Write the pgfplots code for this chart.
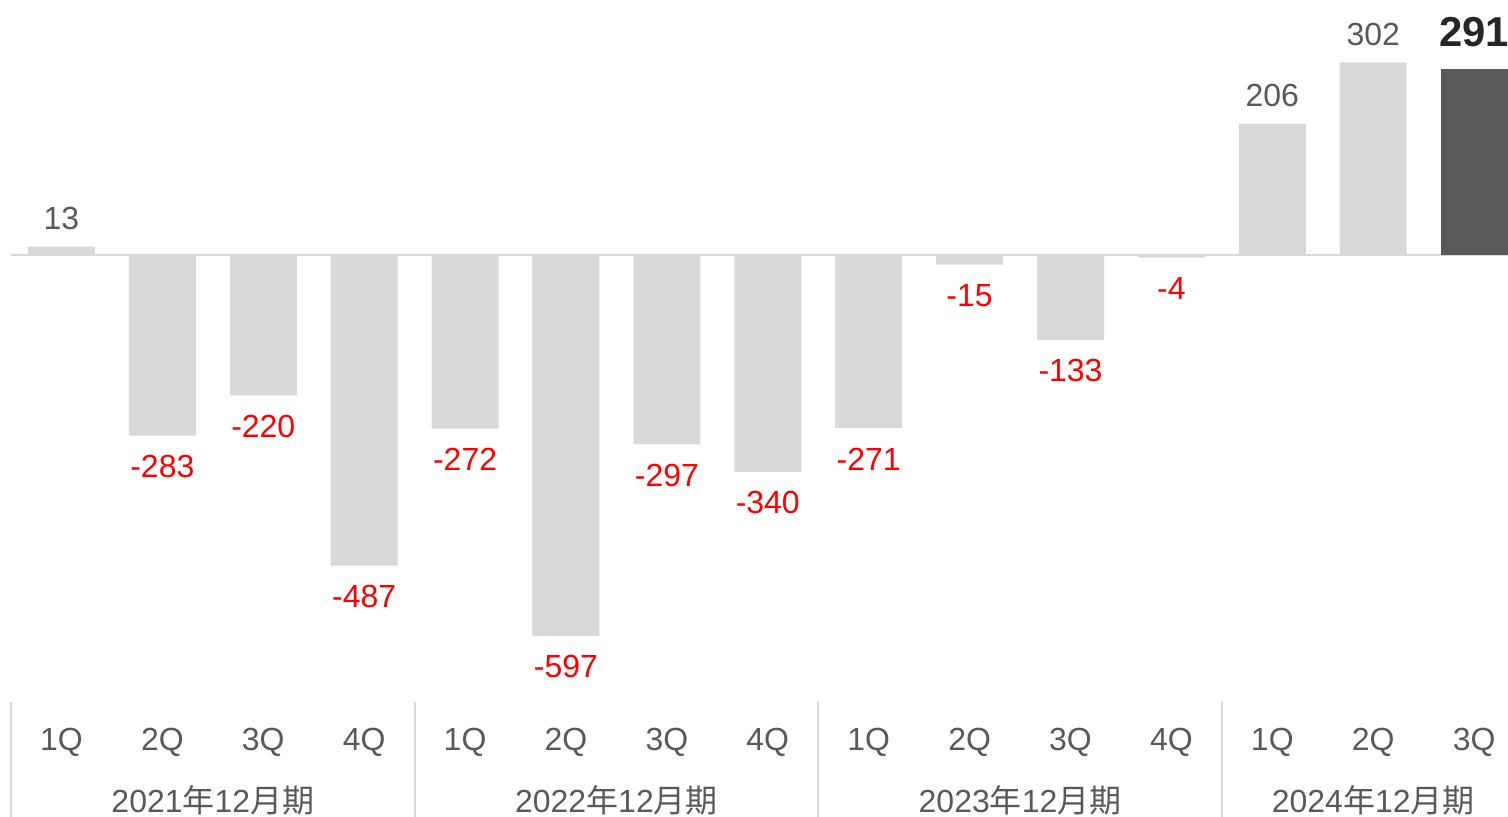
\documentclass[border=0pt]{standalone}
\usepackage{pgfplots}
\pgfplotsset{compat=1.18}
\usepackage{fontspec}
\setmainfont{Liberation Sans}
\newfontfamily\cjk{Noto Sans CJK JP}
\definecolor{barlight}{HTML}{D9D9D9}
\definecolor{bardark}{HTML}{595959}
\definecolor{txtgray}{HTML}{595959}
\definecolor{txtdark}{HTML}{262626}
\definecolor{negred}{HTML}{FF0000}
\begin{document}
\begin{tikzpicture}
\begin{axis}[
  scale only axis,
  width=150.8mm, height=81.7mm,
  xmin=-0.609, xmax=14.336,
  ymin=-880.9, ymax=399.7,
  axis line style={draw=none},
  major tick length=0pt,
  ytick=\empty,
  xtick={0,...,14},
  xticklabels={1Q,2Q,3Q,4Q,1Q,2Q,3Q,4Q,1Q,2Q,3Q,4Q,1Q,2Q,3Q},
  xticklabel style={anchor=center, yshift=7.45mm, text=txtgray, font=\fontsize{9.1pt}{11pt}\selectfont},
  clip=false,
  ybar, bar width=6.7mm, bar shift=0pt,
  /pgf/number format/assume math mode=true,
  every node near coord/.append style={font=\fontsize{9.1pt}{11pt}\selectfont, anchor=center},
]
\draw[barlight, line width=0.2mm] (axis cs:-0.5,0) -- (axis cs:14.336,0);
% negative quarters
\addplot[fill=barlight, draw=none,
  nodes near coords,
  every node near coord/.append style={text=negred, yshift=-3.1mm}]
  coordinates {(1,-283) (2,-220) (3,-487) (4,-272) (5,-597) (6,-297) (7,-340) (8,-271) (9,-15) (10,-133) (11,-4)};
% positive quarters
\addplot[fill=barlight, draw=none,
  nodes near coords,
  every node near coord/.append style={text=txtgray, yshift=2.8mm}]
  coordinates {(0,13) (12,206) (13,302)};
% latest quarter
\addplot[fill=bardark, draw=none,
  nodes near coords,
  every node near coord/.append style={text=txtdark, yshift=3.7mm, font=\fontsize{11.9pt}{14pt}\selectfont\bfseries}]
  coordinates {(14,291)};
% group separators
\foreach \s in {-0.5,3.5,7.5,11.5} {
  \edef\tmp{\noexpand\draw[barlight, line width=0.2mm] (axis cs:\s,-700.6) -- (axis cs:\s,-880.9);}
  \tmp
}
\node[text=txtgray, font=\fontsize{9.1pt}{11pt}\selectfont] at (axis cs:1.5,-855) {2021{\cjk 年}12{\cjk 月期}};
\node[text=txtgray, font=\fontsize{9.1pt}{11pt}\selectfont] at (axis cs:5.5,-855) {2022{\cjk 年}12{\cjk 月期}};
\node[text=txtgray, font=\fontsize{9.1pt}{11pt}\selectfont] at (axis cs:9.5,-855) {2023{\cjk 年}12{\cjk 月期}};
\node[text=txtgray, font=\fontsize{9.1pt}{11pt}\selectfont] at (axis cs:13,-855) {2024{\cjk 年}12{\cjk 月期}};
\end{axis}
\pgfresetboundingbox
\path (current axis.south west) rectangle (current axis.north east);
\end{tikzpicture}
\end{document}
